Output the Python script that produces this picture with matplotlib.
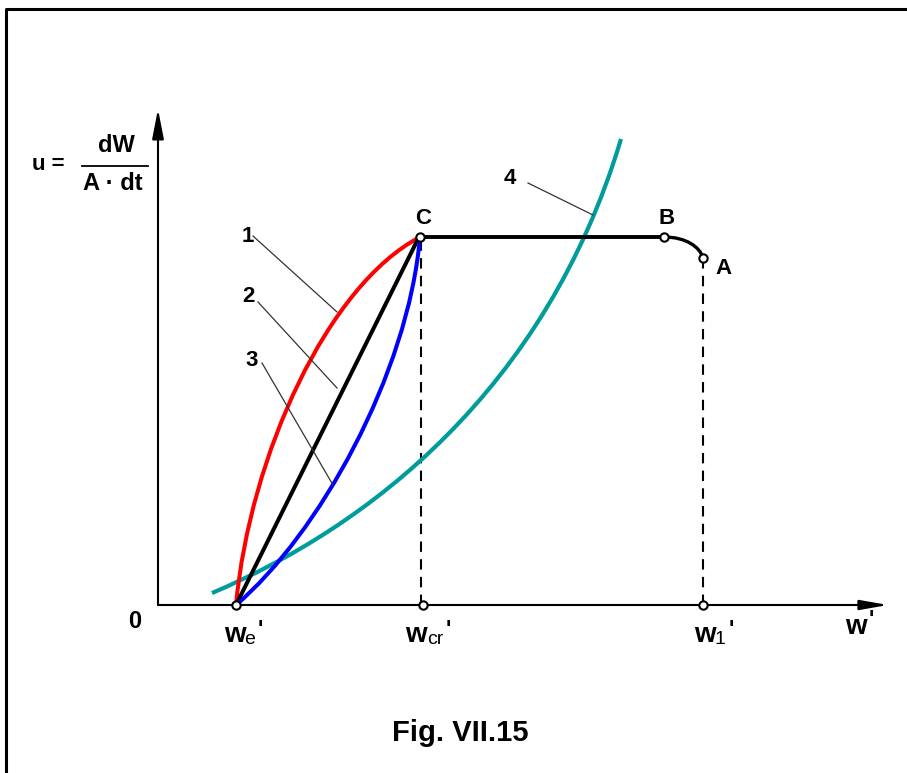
import numpy as np
import matplotlib.pyplot as plt
from matplotlib.path import Path
from matplotlib.patches import PathPatch

# schematic of drying rate u vs moisture w' (Fig. VII.15)
# coordinates are in w' / u units with the origin at the axis crossing

plt.rcParams['font.family'] = ['Liberation Sans', 'DejaVu Sans']

# key points
w_e = 78
w_cr = 263
w_1 = 545
u_C = 368
w_B = 506
u_A = 347

# curves as cubic bezier control points (start, ctrl1, ctrl2, end)
red_w = [78, 92, 170, 262]      # curve 1, concave
red_u = [0, 150, 320, 368]
blue_w = [78, 160, 250, 262]    # curve 3, convex
blue_u = [0, 70, 230, 368]
teal_w = [54, 210, 388, 463]    # curve 4
teal_u = [12, 78, 215, 466]
ba_w = [506, 528, 542, 545]     # falling part B -> A
ba_u = [368, 368, 358, 347]

# curve 2 (black), straight
black_w = [78, 261]
black_u = [0, 368]

# leader lines: (label, label pos, start, end)
leaders = [
    ("1", (90, 368), (95, 369), (179, 293)),
    ("2", (90, 308), (100, 303), (179, 217)),
    ("3", (94, 245), (104, 242), (175, 120)),
    ("4", (352, 426), (370, 422), (435, 390)),
]

fig = plt.figure(figsize=(9.07, 7.73), dpi=100)
ax = fig.add_axes([0, 0, 1, 1])
ax.set_xlim(-158, 749)
ax.set_ylim(-168, 605)
ax.axis('off')


def bezier(xs, ys, color, lw, z=2):
    verts = list(zip(xs, ys))
    codes = [Path.MOVETO, Path.CURVE4, Path.CURVE4, Path.CURVE4]
    ax.add_patch(PathPatch(Path(verts, codes), fc='none', ec=color, lw=lw, zorder=z))


# frame (left and top only)
ax.plot([-152, -152, 749], [-168, 596, 596], color='black', lw=2.2, solid_capstyle='butt')

# axes with arrows
ax.annotate('', xy=(730, 0), xytext=(0, 0),
            arrowprops=dict(arrowstyle='-|>,head_length=1.7,head_width=0.3',
                            lw=1.5, color='black', shrinkA=0, shrinkB=0, mutation_scale=10))
ax.annotate('', xy=(0, 496), xytext=(0, 0),
            arrowprops=dict(arrowstyle='-|>,head_length=1.8,head_width=0.35',
                            lw=1.5, color='black', shrinkA=0, shrinkB=0, mutation_scale=10))

# dashed verticals
ax.plot([w_cr, w_cr], [0, u_C], color='black', lw=1.5, ls=(0, (5, 3.5)))
ax.plot([w_1, w_1], [0, u_A], color='black', lw=1.5, ls=(0, (5, 3.5)))

# curves
bezier(teal_w, teal_u, '#009c9c', 3.0)
bezier(red_w, red_u, '#ff0000', 2.9)
ax.plot(black_w, black_u, color='black', lw=2.9, zorder=2)
bezier(blue_w, blue_u, '#0000ff', 2.9)

# constant rate period C -> B and falling B -> A
ax.plot([w_cr - 1, w_B], [u_C, u_C], color='black', lw=2.8, zorder=3)
bezier(ba_w, ba_u, 'black', 2.4, z=3)

# leaders and numbers
for lab, pos, p0, p1 in leaders:
    ax.plot([p0[0], p1[0]], [p0[1], p1[1]], color='#333333', lw=0.9, zorder=4)
    ax.text(pos[0], pos[1], lab, fontsize=16, fontweight='bold', ha='center', va='center')

# small open circles
pts_w = [w_e, w_cr + 2, w_1, w_cr - 1, w_B, w_1]
pts_u = [0, 0, 0, u_C, u_C, u_A]
ax.plot(pts_w, pts_u, ls='none', marker='o', ms=6, mfc='white', mec='black', mew=1.5, zorder=5)

# point labels
ax.text(265, 387, "C", fontsize=16, fontweight='bold', ha='center', va='center')
ax.text(509, 387, "B", fontsize=16, fontweight='bold', ha='center', va='center')
ax.text(565, 337, "A", fontsize=16, fontweight='bold', ha='center', va='center')
ax.text(-23, -16, "0", fontsize=17, fontweight='bold', ha='center', va='center')


# x tick labels with subscripts
def wlabel(x, sub, xsub, xprime):
    ax.text(x, -30, "w", fontsize=20, fontweight='bold', ha='center', va='center')
    if sub:
        ax.text(xsub, -34, sub, fontsize=14, ha='center', va='center')
    ax.text(xprime, -25, "'", fontsize=16, fontweight='bold', ha='center', va='center')


wlabel(77, "e", 92, 102)
wlabel(258, "cr", 277, 290)
wlabel(547, "1", 562, 573)
ax.text(698, -22, "w", fontsize=20, fontweight='bold', ha='center', va='center')
ax.text(713, -15, "'", fontsize=16, fontweight='bold', ha='center', va='center')

# y label as fraction
ax.text(-110, 441, "u =", fontsize=16, fontweight='bold', ha='center', va='center')
ax.text(-42, 460, "dW", fontsize=17, fontweight='bold', ha='center', va='center')
ax.plot([-76, -10], [439, 439], color='black', lw=1.3)
ax.text(-45, 421, "A \u00b7 dt", fontsize=17, fontweight='bold', ha='center', va='center')

ax.text(302, -128, "Fig. VII.15", fontsize=21, fontweight='bold', ha='center', va='center')

fig.savefig("out.png", dpi=100)
